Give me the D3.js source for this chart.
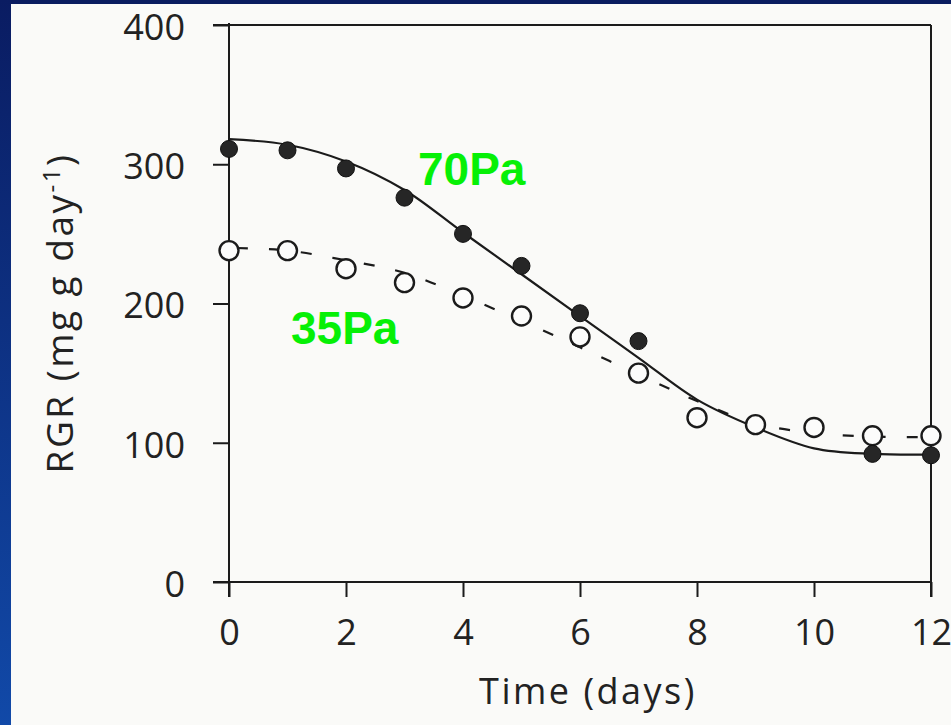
<!DOCTYPE html>
<html>
<head>
<meta charset="utf-8">
<script src="https://cdn.jsdelivr.net/npm/d3@7"></script>
<style>
  html, body { margin: 0; padding: 0; overflow: hidden; background: #fafaf8; }
  svg { display: block; }
</style>
</head>
<body>
<svg id="chart" width="951" height="725"></svg>
<script>
// Relative growth rate (RGR) over time at two CO2 partial pressures

// Measured points, 70 Pa (filled circles)
const days70 = [0, 1, 2, 3, 4, 5, 6, 7, 11, 12];
const rgr70 = [311, 310, 297, 276, 250, 227, 193, 173, 92, 91];

// Measured points, 35 Pa (open circles)
const days35 = [0, 1, 2, 3, 4, 5, 6, 7, 8, 9, 10, 11, 12];
const rgr35 = [238, 238, 225, 215, 204, 191, 176, 150, 118, 113, 111, 105, 105];

// Fitted curve, 70 Pa (solid)
const fitDays70 = [0, 1, 2, 3, 4, 5, 6, 7, 8, 9, 10, 11, 12];
const fit70 = [318, 314, 302, 281.5, 251, 221, 191, 161, 131, 111, 96, 92, 91.5];

// Fitted curve, 35 Pa (dashed)
const fitDays35 = [0, 1, 2, 3, 4, 5, 6, 7, 8, 9, 10, 11, 12];
const fit35 = [240, 238, 231, 222, 205.5, 187.5, 168.5, 149, 130, 114, 107, 104.5, 104];

// Axis ticks and labels
const xTicks = [0, 2, 4, 6, 8, 10, 12];
const yTicks = [0, 100, 200, 300, 400];
const xTitle = "Time (days)";
const yTitle = "RGR (mg g day";
const yTitleSup = "-1";
const label70 = "70Pa";
const label35 = "35Pa";

const W = 951, H = 725;
const svg = d3.select("#chart");

// Slide frame: navy strips on the left and top edges
const defs = svg.append("defs");
const grad = defs.append("linearGradient")
  .attr("id", "edgeBlue").attr("x1", 0).attr("y1", 0).attr("x2", 0).attr("y2", 1);
grad.append("stop").attr("offset", "0%").attr("stop-color", "#0a1c62");
grad.append("stop").attr("offset", "100%").attr("stop-color", "#1149a8");

svg.append("rect").attr("x", 0).attr("y", 0).attr("width", W).attr("height", H).attr("fill", "#fafaf8");
svg.append("rect").attr("x", 0).attr("y", 0).attr("width", W).attr("height", 4).attr("fill", "#0a1c60");
svg.append("rect").attr("x", 0).attr("y", 0).attr("width", 11).attr("height", H).attr("fill", "url(#edgeBlue)");

// Scales
const x = d3.scaleLinear().domain([0, 12]).range([229, 931]);
const y = d3.scaleLinear().domain([0, 400]).range([582, 25]);

const ink = "#1b1b1b";
const tickFont = "'Open Sans', 'DejaVu Sans', sans-serif";

// Frame: top and right borders
const frame = svg.append("g").attr("stroke", ink).attr("stroke-width", 2).attr("fill", "none");
frame.append("line").attr("x1", x(0) - 16).attr("x2", x(12)).attr("y1", y(400)).attr("y2", y(400));
frame.append("line").attr("x1", x(12)).attr("x2", x(12)).attr("y1", y(400)).attr("y2", y(0) + 15);
// Axis lines
frame.append("line").attr("x1", x(0)).attr("x2", x(0)).attr("y1", y(400) - 2).attr("y2", y(0) + 15);
frame.append("line").attr("x1", x(0) - 16).attr("x2", x(12)).attr("y1", y(0)).attr("y2", y(0));

// Y axis
const yAxis = svg.append("g")
  .attr("transform", `translate(${x(0)},0)`)
  .call(d3.axisLeft(y).tickValues(yTicks).tickFormat(d3.format("d")).tickSize(16).tickPadding(28));
yAxis.select(".domain").remove();
yAxis.selectAll(".tick line").attr("stroke", ink).attr("stroke-width", 2);
yAxis.selectAll(".tick text")
  .attr("fill", "#222").attr("dy", "0.4em")
  .style("font-family", tickFont).style("font-size", "36px");

// X axis
const xAxis = svg.append("g")
  .attr("transform", `translate(0,${y(0)})`)
  .call(d3.axisBottom(x).tickValues(xTicks).tickFormat(d3.format("d")).tickSize(15).tickPadding(22));
xAxis.select(".domain").remove();
xAxis.selectAll(".tick line").attr("stroke", ink).attr("stroke-width", 2);
xAxis.selectAll(".tick text")
  .attr("fill", "#222").style("font-family", tickFont).style("font-size", "36px");

// Axis titles
svg.append("text")
  .attr("x", 588).attr("y", 704)
  .attr("text-anchor", "middle")
  .attr("fill", "#222")
  .style("font-family", tickFont).style("font-size", "36px").style("letter-spacing", "2.5px")
  .text(xTitle);

const yt = svg.append("text")
  .attr("transform", "translate(73,313) rotate(-90)")
  .attr("text-anchor", "middle")
  .attr("fill", "#222")
  .style("font-family", tickFont).style("font-size", "37px").style("letter-spacing", "2.5px");
yt.append("tspan").text(yTitle);
yt.append("tspan").attr("dy", -13).style("font-size", "24px").text(yTitleSup);
yt.append("tspan").attr("dy", 13).text(")");

// Fitted curves
const line = d3.line().x(d => x(d[0])).y(d => y(d[1])).curve(d3.curveCatmullRom.alpha(0.5));

svg.append("path")
  .datum(fitDays35.map((d, i) => [d, fit35[i]]))
  .attr("d", line)
  .attr("fill", "none").attr("stroke", ink).attr("stroke-width", 2.2)
  .attr("stroke-dasharray", "11,21").attr("stroke-dashoffset", -8);

svg.append("path")
  .datum(fitDays70.map((d, i) => [d, fit70[i]]))
  .attr("d", line)
  .attr("fill", "none").attr("stroke", ink).attr("stroke-width", 2.2);

// Open circles: 35 Pa
svg.append("g").selectAll("circle")
  .data(days35.map((d, i) => [d, rgr35[i]]))
  .join("circle")
  .attr("cx", d => x(d[0])).attr("cy", d => y(d[1])).attr("r", 9.5)
  .attr("fill", "#fcfcfb").attr("stroke", ink).attr("stroke-width", 2.4);

// Filled circles: 70 Pa
svg.append("g").selectAll("circle")
  .data(days70.map((d, i) => [d, rgr70[i]]))
  .join("circle")
  .attr("cx", d => x(d[0])).attr("cy", d => y(d[1])).attr("r", 8.5)
  .attr("fill", "#262626").attr("stroke", "#111").attr("stroke-width", 1);

// Series labels
const labelFont = "'Liberation Sans', Arial, sans-serif";
svg.append("text")
  .attr("x", 418).attr("y", 185)
  .attr("fill", "#06f006")
  .style("font-family", labelFont).style("font-weight", "bold").style("font-size", "46px")
  .text(label70);
svg.append("text")
  .attr("x", 291).attr("y", 344)
  .attr("fill", "#06f006")
  .style("font-family", labelFont).style("font-weight", "bold").style("font-size", "46px")
  .text(label35);
</script>
</body>
</html>
